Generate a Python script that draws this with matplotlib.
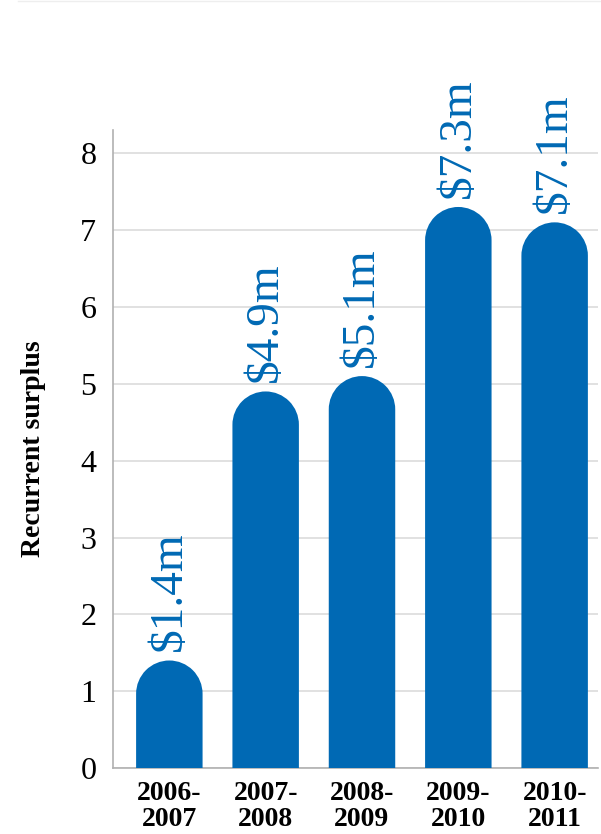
import matplotlib
matplotlib.use("Agg")
import numpy as np
import matplotlib.pyplot as plt
from matplotlib.patches import PathPatch
from matplotlib.path import Path
from matplotlib.lines import Line2D

# Recurrent surplus by financial year ($ millions)
years = ["2006-\n2007", "2007-\n2008", "2008-\n2009", "2009-\n2010", "2010-\n2011"]
surplus = [1.4, 4.9, 5.1, 7.3, 7.1]
yticks = [0, 1, 2, 3, 4, 5, 6, 7, 8]

BLUE = "#0069b4"
SERIF = ["Liberation Serif", "DejaVu Serif"]
plt.rcParams["font.family"] = SERIF

W, H, DPI = 6.01, 8.34, 100
fig = plt.figure(figsize=(W, H), dpi=DPI)
ax_rect = [0.188, 0.079, 0.807, 0.765]
ax = fig.add_axes(ax_rect)

xlim = (-0.585, 4.45)
ylim = (0, 8.3)
ax.set_xlim(*xlim)
ax.set_ylim(*ylim)

bar_w = 0.69
# vertical radius (data units) that makes the cap a true semicircle on screen
px_per_x = ax_rect[2] * W * DPI / (xlim[1] - xlim[0])
px_per_y = ax_rect[3] * H * DPI / (ylim[1] - ylim[0])
ry = (bar_w / 2) * px_per_x / px_per_y


def rounded_bar(x, top, width, cap):
    """Bar outline in data coordinates with a semicircular top."""
    arc = Path.arc(0, 180)
    arc_v = arc.vertices * np.array([width / 2, cap]) + np.array([x, top - cap])
    verts = [(x + width / 2, 0.0)] + list(map(tuple, arc_v)) + [(x - width / 2, 0.0), (0, 0)]
    codes = [Path.MOVETO] + [Path.LINETO] + list(arc.codes[1:]) + [Path.LINETO, Path.CLOSEPOLY]
    return Path(verts, codes)


xs = list(range(len(years)))
for x, v in zip(xs, surplus):
    ax.add_patch(PathPatch(rounded_bar(x, v, bar_w, ry), facecolor=BLUE,
                           edgecolor="none", zorder=3))
    ax.text(x, v + 0.12, f"\\${v:g}m", rotation=90, ha="center", va="bottom",
            color=BLUE, fontsize=34, zorder=4)

ax.set_yticks(yticks)
ax.set_yticklabels([str(t) for t in yticks], fontsize=23)
ax.set_xticks(xs)
ax.set_xticklabels(years, fontsize=20, fontweight="bold", linespacing=1.08)
ax.tick_params(axis="both", length=0, pad=9)
ax.tick_params(axis="y", pad=12)

ax.yaxis.grid(True, color="#dcdcdc", linewidth=1.2, zorder=0)
ax.set_axisbelow(True)
for s in ["top", "right"]:
    ax.spines[s].set_visible(False)
for s in ["left", "bottom"]:
    ax.spines[s].set_color("#b0b0b0")
    ax.spines[s].set_linewidth(1.2)

ax.set_ylabel("Recurrent surplus", fontsize=20, fontweight="bold")
ax.yaxis.set_label_coords(-0.138, 0.5)

fig.add_artist(Line2D([0.03, 1.0], [0.999, 0.999], color="#eeeeee", linewidth=1))

fig.savefig("out.png", dpi=DPI)
